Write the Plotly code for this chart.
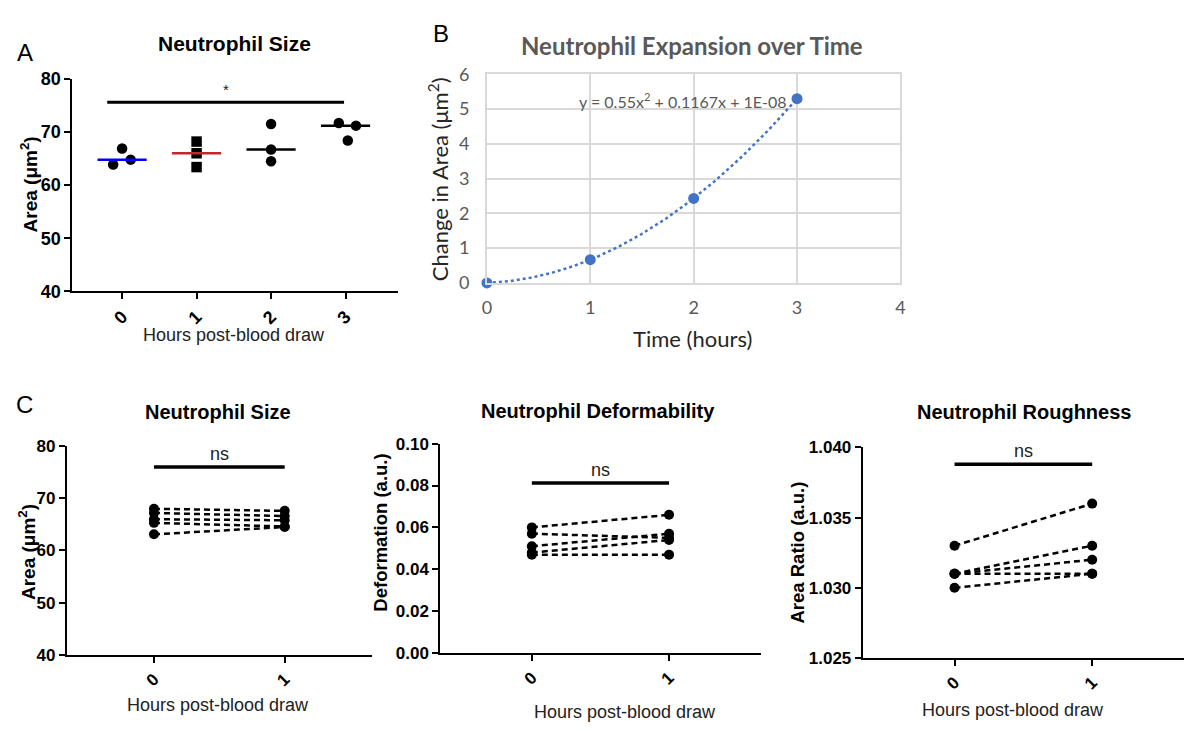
import numpy as np
import plotly.graph_objects as go

W, H = 1189, 731

# ---------------- data ----------------
# Panel A: neutrophil area per donor at each time point
a_hours = [0, 1, 2, 3]
a_area_h0 = [63.9, 66.9, 64.8]
a_area_h1 = [68.2, 66.0, 63.4]
a_area_h2 = [71.5, 66.7, 64.5]
a_area_h3 = [71.7, 71.2, 68.4]
a_sig_label = "*"

# Panel B: mean change in area vs time, with quadratic trendline
b_time = [0, 1, 2, 3]
b_change = [0.0, 0.667, 2.43, 5.30]
b_trend_coeffs = [0.55, 0.1167, 1e-08]
b_trend_label = "y = 0.55x<sup>2</sup> + 0.1167x + 1E-08"

# Panel C: paired measurements at 0 h and 1 h
c_hours = [0, 1]
c_size_h0 = [68.0, 67.2, 66.0, 65.3, 63.1]
c_size_h1 = [67.6, 66.6, 65.8, 64.6, 64.5]
c_deform_h0 = [0.060, 0.057, 0.051, 0.048, 0.047]
c_deform_h1 = [0.066, 0.055, 0.057, 0.054, 0.047]
c_rough_h0 = [1.033, 1.031, 1.031, 1.031, 1.030]
c_rough_h1 = [1.036, 1.033, 1.032, 1.031, 1.031]
c_sig_label = "ns"

# ---------------- styling ----------------
PRISM = "Liberation Sans, Arial, sans-serif"
EXCEL = "Lato, Carlito, Calibri, sans-serif"
a_jitter = [[-0.12, 0.0, 0.115], [0, 0, 0], [0, 0, 0], [-0.09, 0.14, 0.03]]
a_symbols = ["circle", "square", "circle", "circle"]
a_median_colors = ["#0000ff", "#c0282d", "#000000", "#000000"]
a_median_half = 0.33
a_sig_bar = dict(x0=-0.2, x1=2.98, y=75.6, label_y=78.0)
c_size_bar = dict(y=76.0, label_y=78.6)
c_deform_bar = dict(y=0.0812, label_y=0.0875)
c_rough_bar = dict(y=1.0388, label_y=1.03975)


def px_x(p):
    return p / W


def px_y(p):
    return 1 - p / H


fig = go.Figure()

# ---------- Panel A ----------
a_groups = [a_area_h0, a_area_h1, a_area_h2, a_area_h3]
for hour, vals, jit, sym, mcol in zip(a_hours, a_groups, a_jitter, a_symbols, a_median_colors):
    fig.add_trace(go.Scatter(
        x=[hour + j for j in jit], y=vals, mode="markers",
        marker=dict(symbol=sym, size=10.5, color="black"),
        xaxis="x", yaxis="y", showlegend=False, cliponaxis=False))
    med = float(np.median(vals))
    fig.add_trace(go.Scatter(
        x=[hour - a_median_half, hour + a_median_half], y=[med, med], mode="lines",
        line=dict(color=mcol, width=2.5), xaxis="x", yaxis="y", showlegend=False))
fig.add_trace(go.Scatter(
    x=[a_sig_bar["x0"], a_sig_bar["x1"]], y=[a_sig_bar["y"]] * 2, mode="lines",
    line=dict(color="black", width=3), xaxis="x", yaxis="y", showlegend=False))
fig.add_annotation(
    x=(a_sig_bar["x0"] + a_sig_bar["x1"]) / 2, y=a_sig_bar["label_y"], xref="x", yref="y",
    text=a_sig_label, showarrow=False, font=dict(family=PRISM, size=15, color="#222"))

# ---------- Panel B ----------
xs = np.linspace(0, 3, 200)
trend = np.polyval(b_trend_coeffs, xs)
fig.add_trace(go.Scatter(
    x=xs, y=trend, mode="lines", line=dict(color="#4472c4", width=2.5, dash="dot"),
    xaxis="x2", yaxis="y2", showlegend=False))
fig.add_trace(go.Scatter(
    x=b_time, y=b_change, mode="markers", marker=dict(color="#4472c4", size=11),
    xaxis="x2", yaxis="y2", showlegend=False, cliponaxis=False))

# ---------- Panel C ----------
def paired(h0, h1, xa, ya, bar):
    for v0, v1 in zip(h0, h1):
        fig.add_trace(go.Scatter(
            x=c_hours, y=[v0, v1], mode="lines+markers",
            line=dict(color="black", width=2.5, dash="6px,4px"),
            marker=dict(color="black", size=10),
            xaxis=xa, yaxis=ya, showlegend=False, cliponaxis=False))
    fig.add_trace(go.Scatter(
        x=c_hours, y=[bar["y"]] * 2, mode="lines", line=dict(color="black", width=3.5),
        xaxis=xa, yaxis=ya, showlegend=False))
    fig.add_annotation(
        x=sum(c_hours) / 2, y=bar["label_y"], xref=xa, yref=ya, text=c_sig_label,
        showarrow=False, font=dict(family=PRISM, size=18, color="#222"))


paired(c_size_h0, c_size_h1, "x3", "y3", c_size_bar)
paired(c_deform_h0, c_deform_h1, "x4", "y4", c_deform_bar)
paired(c_rough_h0, c_rough_h1, "x5", "y5", c_rough_bar)

# ---------- axes ----------
def prism_x(domain, rng, vals, anchor, fsize):
    return dict(domain=domain, range=rng, anchor=anchor, showgrid=False, zeroline=False,
                showline=True, linecolor="black", linewidth=2, ticks="outside",
                ticklen=6, tickwidth=2, tickcolor="black", tickvals=vals,
                ticktext=[str(v) for v in vals], tickangle=-45,
                tickfont=dict(family=PRISM, size=fsize, color="black", weight="bold"))


def prism_y(domain, rng, dtick, anchor, fmt, fsize):
    return dict(domain=domain, range=rng, anchor=anchor, showgrid=False, zeroline=False,
                showline=True, linecolor="black", linewidth=2, ticks="outside",
                ticklen=6, tickwidth=2, tickcolor="black", tick0=rng[0], dtick=dtick,
                tickformat=fmt,
                tickfont=dict(family=PRISM, size=fsize, color="black", weight="bold"))


fig.update_layout(
    width=W, height=H, margin=dict(l=0, r=0, t=0, b=0),
    paper_bgcolor="white", plot_bgcolor="white", showlegend=False,
    xaxis=prism_x([px_x(68), px_x(396)], [-0.667, 3.7], a_hours, "y", 18),
    yaxis=prism_y([px_y(288), px_y(69)], [40, 80], 10, "x", "d", 18),
    xaxis2=dict(domain=[px_x(486), px_x(903)], range=[0, 4], anchor="y2", dtick=1,
                showgrid=True, gridcolor="#d9d9d9", gridwidth=1.5, zeroline=False,
                showline=True, mirror=True, linecolor="#d9d9d9", linewidth=1.5,
                ticks="", ticklabelstandoff=8,
                tickfont=dict(family=EXCEL, size=18, color="#595959")),
    yaxis2=dict(domain=[px_y(279.3), px_y(64.3)], range=[0, 6], anchor="x2", dtick=1,
                showgrid=True, gridcolor="#d9d9d9", gridwidth=1.5, zeroline=False,
                showline=True, mirror=True, linecolor="#d9d9d9", linewidth=1.5,
                ticks="", ticklabelstandoff=12,
                tickfont=dict(family=EXCEL, size=18, color="#595959")),
    xaxis3=prism_x([px_x(62.3), px_x(370)], [-0.667, 1.667], c_hours, "y3", 17),
    yaxis3=prism_y([px_y(662.7), px_y(447.7)], [40, 80], 10, "x3", "d", 17),
    xaxis4=prism_x([px_x(439), px_x(762)], [-0.667, 1.667], c_hours, "y4", 17),
    yaxis4=prism_y([px_y(661), px_y(445)], [0, 0.1], 0.02, "x4", ".2f", 17),
    xaxis5=prism_x([px_x(865), px_x(1189)], [-0.667, 1.667], c_hours, "y5", 17),
    yaxis5=prism_y([px_y(666), px_y(449)], [1.025, 1.040], 0.005, "x5", ".3f", 17),
)

# ---------- text ----------
def label(text, x, y, size, family=PRISM, bold=False, color="black", angle=0):
    fig.add_annotation(
        text=text, x=px_x(x), y=px_y(y), xref="paper", yref="paper",
        xanchor="center", yanchor="middle", showarrow=False, textangle=angle,
        font=dict(family=family, size=size, color=color, weight="bold" if bold else "normal"))


# panel letters
label("A", 20, 42, 24)
label("B", 440, 22, 24)
label("C", 20, 405, 24)

# panel A
label("Neutrophil Size", 231, 32, 21, bold=True)
label("Area (μm<sup>2</sup>)", 24, 178, 19, bold=True, angle=-90)
label("Hours post-blood draw", 231, 333, 18, color="#222")

# panel B
label("Neutrophil Expansion over Time", 693, 35, 24, family=EXCEL, bold=True, color="#595959")
label("Change in Area (μm<sup>2</sup>)", 437, 172, 22, family=EXCEL, color="#262626", angle=-90)
label("Time (hours)", 693, 337, 22, family=EXCEL, color="#262626")
label(b_trend_label, 684, 91, 16, family=EXCEL, color="#595959")

# panel C
label("Neutrophil Size", 215, 412, 20, bold=True)
label("Area (μm<sup>2</sup>)", 22, 557, 19, bold=True, angle=-90)
label("Hours post-blood draw", 215, 715, 18, color="#222")

label("Neutrophil Deformability", 598, 411, 20, bold=True)
label("Deformation (a.u.)", 379, 537, 18.5, bold=True, angle=-90)
label("Hours post-blood draw", 625, 722, 18, color="#222")

label("Neutrophil Roughness", 1028, 412, 20, bold=True)
label("Area Ratio (a.u.)", 799, 557, 18.5, bold=True, angle=-90)
label("Hours post-blood draw", 1017, 720, 18, color="#222")

fig.write_html("out.html")
